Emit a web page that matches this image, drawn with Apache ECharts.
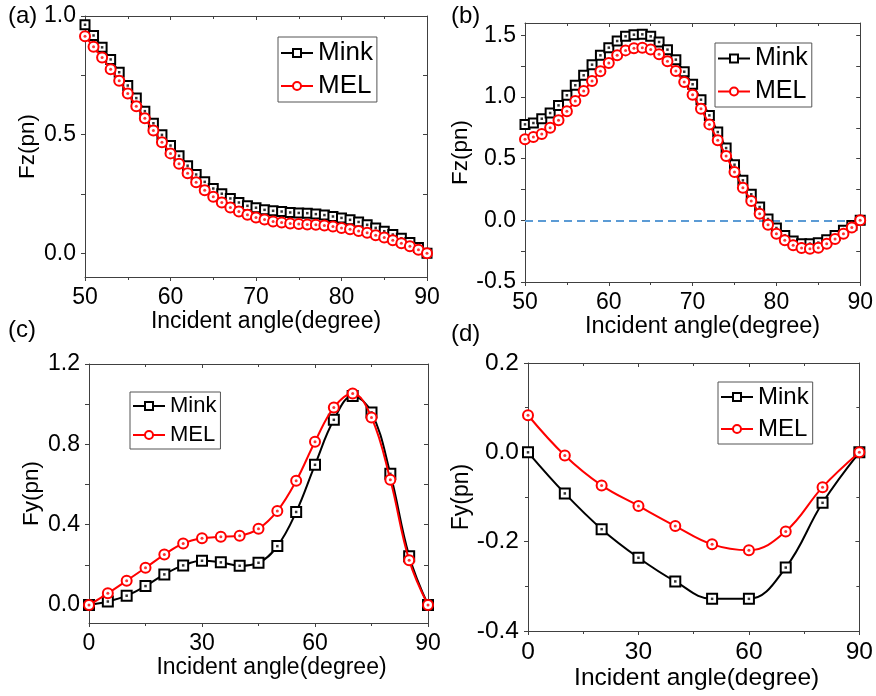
<!DOCTYPE html>
<html>
<head>
<meta charset="utf-8">
<script src="https://cdn.jsdelivr.net/npm/echarts@6/dist/echarts.min.js"></script>
<style>
html, body { margin: 0; padding: 0; background: #fff; }
#chart { width: 876px; height: 696px; }
</style>
</head>
<body>
<div id="chart"></div>
<script>
// ---- data ----
// (a) Fz, 1 degree steps
const angleA = [50, 51, 52, 53, 54, 55, 56, 57, 58, 59, 60, 61, 62, 63, 64, 65, 66, 67, 68, 69, 70,
  71, 72, 73, 74, 75, 76, 77, 78, 79, 80, 81, 82, 83, 84, 85, 86, 87, 88, 89, 90];
const minkA = [0.963, 0.918, 0.868, 0.817, 0.763, 0.707, 0.654, 0.599, 0.548, 0.499, 0.454,
  0.411, 0.369, 0.332, 0.301, 0.273, 0.251, 0.231, 0.214, 0.200, 0.192,
  0.183, 0.179, 0.176, 0.172, 0.170, 0.169, 0.165, 0.161, 0.155, 0.149,
  0.141, 0.132, 0.120, 0.107, 0.093, 0.079, 0.063, 0.045, 0.024, 0.0];
const melA = [0.915, 0.870, 0.825, 0.776, 0.727, 0.673, 0.620, 0.569, 0.517, 0.468, 0.421,
  0.377, 0.337, 0.299, 0.266, 0.238, 0.214, 0.193, 0.176, 0.162, 0.151,
  0.142, 0.134, 0.130, 0.125, 0.123, 0.121, 0.120, 0.117, 0.113, 0.107,
  0.101, 0.094, 0.086, 0.076, 0.066, 0.055, 0.042, 0.030, 0.015, 0.0];

// (b) Fz, 1 degree steps
const angleB = angleA;
const minkB = [0.778, 0.789, 0.824, 0.870, 0.932, 1.014, 1.095, 1.176, 1.262, 1.338, 1.400,
  1.454, 1.492, 1.505, 1.508, 1.492, 1.446, 1.384, 1.303, 1.205, 1.103,
  0.978, 0.851, 0.716, 0.586, 0.451, 0.324, 0.211, 0.108, 0.011, -0.062,
  -0.122, -0.168, -0.189, -0.189, -0.181, -0.157, -0.122, -0.081, -0.041, 0.0];
const melB = [0.657, 0.676, 0.700, 0.751, 0.811, 0.884, 0.968, 1.049, 1.130, 1.208, 1.276,
  1.338, 1.378, 1.395, 1.400, 1.386, 1.346, 1.289, 1.211, 1.122, 1.019,
  0.905, 0.778, 0.649, 0.522, 0.392, 0.265, 0.157, 0.054, -0.035, -0.108,
  -0.162, -0.203, -0.224, -0.230, -0.222, -0.189, -0.151, -0.108, -0.059, 0.0];

// (c) Fy, 5 degree steps
const angleC = [0, 5, 10, 15, 20, 25, 30, 35, 40, 45, 50, 55, 60, 65, 70, 75, 80, 85, 90];
const minkC = [0.0, 0.017, 0.046, 0.094, 0.152, 0.197, 0.220, 0.212, 0.195, 0.210,
  0.293, 0.463, 0.698, 0.922, 1.041, 0.959, 0.653, 0.243, 0.0];
const melC = [0.0, 0.058, 0.121, 0.185, 0.251, 0.306, 0.332, 0.339, 0.345, 0.379,
  0.468, 0.618, 0.813, 0.983, 1.053, 0.934, 0.623, 0.223, 0.0];

// (d) Fy, 10 degree steps
const angleD = [0, 10, 20, 30, 40, 50, 60, 70, 80, 90];
const minkD = [0.0, -0.092, -0.172, -0.236, -0.289, -0.328, -0.328, -0.258, -0.113, 0.0];
const melD = [0.083, -0.007, -0.074, -0.120, -0.165, -0.206, -0.219, -0.177, -0.078, 0.0];

// tick values
const yTicksA = [0, 0.25, 0.5, 0.75, 1.0];
const yLabelsA = [0, 0.5, 1.0];
const yTicksB = [-0.5, -0.25, 0, 0.25, 0.5, 0.75, 1.0, 1.25, 1.5];
const yLabelsB = [-0.5, 0, 0.5, 1.0, 1.5];
const yTicksC = [0, 0.2, 0.4, 0.6, 0.8, 1.0, 1.2];
const yLabelsC = [0, 0.4, 0.8, 1.2];

const FONT = 'Liberation Sans, Arial, sans-serif';
const AXIS_COLOR = '#404040';
const BLACK = '#000000';
const RED = '#ff0000';

const grids = [
  { left: 85, top: 16, width: 342, height: 261 },
  { left: 525, top: 23, width: 337, height: 259 },
  { left: 89, top: 364, width: 339, height: 259 },
  { left: 528, top: 363, width: 335, height: 268 }
];

// bottom/left ticks point out, top/right ticks point in
const tickOut = { inside: false, length: 4, lineStyle: { color: AXIS_COLOR, width: 1 } };
const tickIn = { inside: true, length: 4, lineStyle: { color: AXIS_COLOR, width: 1 } };
const minor = { show: true, splitNumber: 2, length: 3, lineStyle: { color: AXIS_COLOR } };
const lineAxis = { onZero: false, lineStyle: { color: AXIS_COLOR, width: 1 } };

function makeX(g, min, max, interval, nameGap, shift, fs, lfs) {
  const base = {
    gridIndex: g, type: 'value', min: min, max: max, interval: interval,
    axisLine: lineAxis, minorTick: minor, splitLine: { show: false }
  };
  return [
    Object.assign({}, base, {
      position: 'bottom', axisTick: tickOut,
      name: 'Incident angle(degree)', nameLocation: 'middle', nameGap: nameGap,
      nameTextStyle: { fontSize: fs, fontFamily: FONT, color: BLACK, padding: [0, 0, 0, shift] },
      axisLabel: { fontSize: lfs, fontFamily: FONT, color: BLACK, margin: 9 }
    }),
    Object.assign({}, base, { position: 'top', axisTick: tickIn, axisLabel: { show: false } })
  ];
}

function makeY(g, min, max, ticks, labels, interval, nameGap, fs, lfs) {
  const base = {
    gridIndex: g, type: 'value', min: min, max: max,
    axisLine: lineAxis, splitLine: { show: false }
  };
  let outTick = tickOut, inTick = tickIn;
  if (ticks) {
    outTick = Object.assign({ customValues: ticks }, tickOut);
    inTick = Object.assign({ customValues: ticks }, tickIn);
  } else {
    base.interval = interval;
    base.minorTick = minor;
  }
  const label = { fontSize: lfs, fontFamily: FONT, color: BLACK, margin: 9, formatter: v => v.toFixed(1) };
  if (labels) label.customValues = labels;
  return [
    Object.assign({}, base, {
      position: 'left', axisTick: outTick,
      name: g < 2 ? 'Fz(pn)' : 'Fy(pn)', nameLocation: 'middle', nameGap: nameGap,
      nameTextStyle: { fontSize: fs, fontFamily: FONT, color: BLACK },
      axisLabel: label
    }),
    Object.assign({}, base, { position: 'right', axisTick: inTick, axisLabel: { show: false } })
  ];
}

function pairs(xs, ys) {
  return xs.map((x, i) => [x, ys[i]]);
}

function curve(name, g, xs, ys, isMink, smooth, size) {
  const color = isMink ? BLACK : RED;
  return {
    name: name, type: 'line', xAxisIndex: g * 2, yAxisIndex: g * 2,
    data: pairs(xs, ys), smooth: smooth,
    symbol: isMink ? 'emptyRect' : 'emptyCircle', symbolSize: size,
    itemStyle: { color: color, borderColor: color, borderWidth: 2 },
    lineStyle: { color: color, width: 2 },
    emphasis: { disabled: true },
    z: isMink ? 2 : 4
  };
}

function dots(g, xs, ys, isMink) {
  return {
    name: isMink ? 'mink-dot' : 'mel-dot', type: 'scatter', xAxisIndex: g * 2, yAxisIndex: g * 2,
    data: pairs(xs, ys), symbol: isMink ? 'rect' : 'circle', symbolSize: isMink ? 2.5 : 3,
    itemStyle: { color: isMink ? BLACK : RED }, silent: true, z: isMink ? 3 : 5
  };
}

function legend(left, top, fs, gap, pad) {
  return {
    left: left, top: top, orient: 'vertical', data: ['Mink', 'MEL'],
    itemWidth: 32, itemHeight: 10, itemGap: gap, padding: pad,
    borderColor: '#555', borderWidth: 1, selectedMode: false,
    textStyle: { fontSize: fs, fontFamily: FONT, color: BLACK }
  };
}

const melB_series = curve('MEL', 1, angleB, melB, false, false, 10);
melB_series.markLine = {
  silent: true, symbol: 'none', z: 1,
  label: { show: false },
  lineStyle: { color: '#5b9bd5', width: 2, type: [8, 5] },
  data: [{ yAxis: 0 }]
};

const option = {
  backgroundColor: '#fff',
  animation: false,
  grid: grids,
  xAxis: [].concat(
    makeX(0, 50, 90, 10, 32, 20, 23, 23),
    makeX(1, 50, 90, 10, 29, 20, 23.5, 23),
    makeX(2, 0, 90, 30, 33, 26, 23, 23),
    makeX(3, 0, 90, 30, 35, 6, 24.5, 24.5)
  ),
  yAxis: [].concat(
    makeY(0, -0.1, 1.0, yTicksA, yLabelsA, null, 46, 22.5, 23),
    makeY(1, -0.5, 1.6, yTicksB, yLabelsB, null, 52, 22.5, 23),
    makeY(2, -0.09, 1.2, yTicksC, yLabelsC, null, 46, 22.5, 23),
    makeY(3, -0.4, 0.2, null, null, 0.2, 55, 23, 24.5)
  ),
  legend: [
    legend(278, 37, 26, 7, [3, 4, 3, 2]),
    legend(715, 43, 25, 8, [3, 4, 3, 2]),
    legend(130, 392, 22, 7, [3, 4, 3, 2]),
    legend(718, 382, 24, 8, [3, 4, 3, 2])
  ],
  graphic: [
    { type: 'text', left: 8, top: 4, style: { text: '(a)', font: '24px ' + FONT, fill: BLACK } },
    { type: 'text', left: 451, top: 4, style: { text: '(b)', font: '24px ' + FONT, fill: BLACK } },
    { type: 'text', left: 8, top: 318, style: { text: '(c)', font: '24px ' + FONT, fill: BLACK } },
    { type: 'text', left: 451, top: 322, style: { text: '(d)', font: '24px ' + FONT, fill: BLACK } }
  ],
  series: [
    curve('Mink', 0, angleA, minkA, true, false, 9),
    dots(0, angleA, minkA, true),
    curve('MEL', 0, angleA, melA, false, false, 10),
    dots(0, angleA, melA, false),
    curve('Mink', 1, angleB, minkB, true, false, 9),
    dots(1, angleB, minkB, true),
    melB_series,
    dots(1, angleB, melB, false),
    curve('Mink', 2, angleC, minkC, true, 0.4, 10),
    dots(2, angleC, minkC, true),
    curve('MEL', 2, angleC, melC, false, 0.4, 10),
    dots(2, angleC, melC, false),
    curve('Mink', 3, angleD, minkD, true, 0.4, 10),
    dots(3, angleD, minkD, true),
    curve('MEL', 3, angleD, melD, false, 0.4, 10),
    dots(3, angleD, melD, false)
  ]
};

const myChart = echarts.init(document.getElementById('chart'));
myChart.setOption(option);
</script>
</body>
</html>
